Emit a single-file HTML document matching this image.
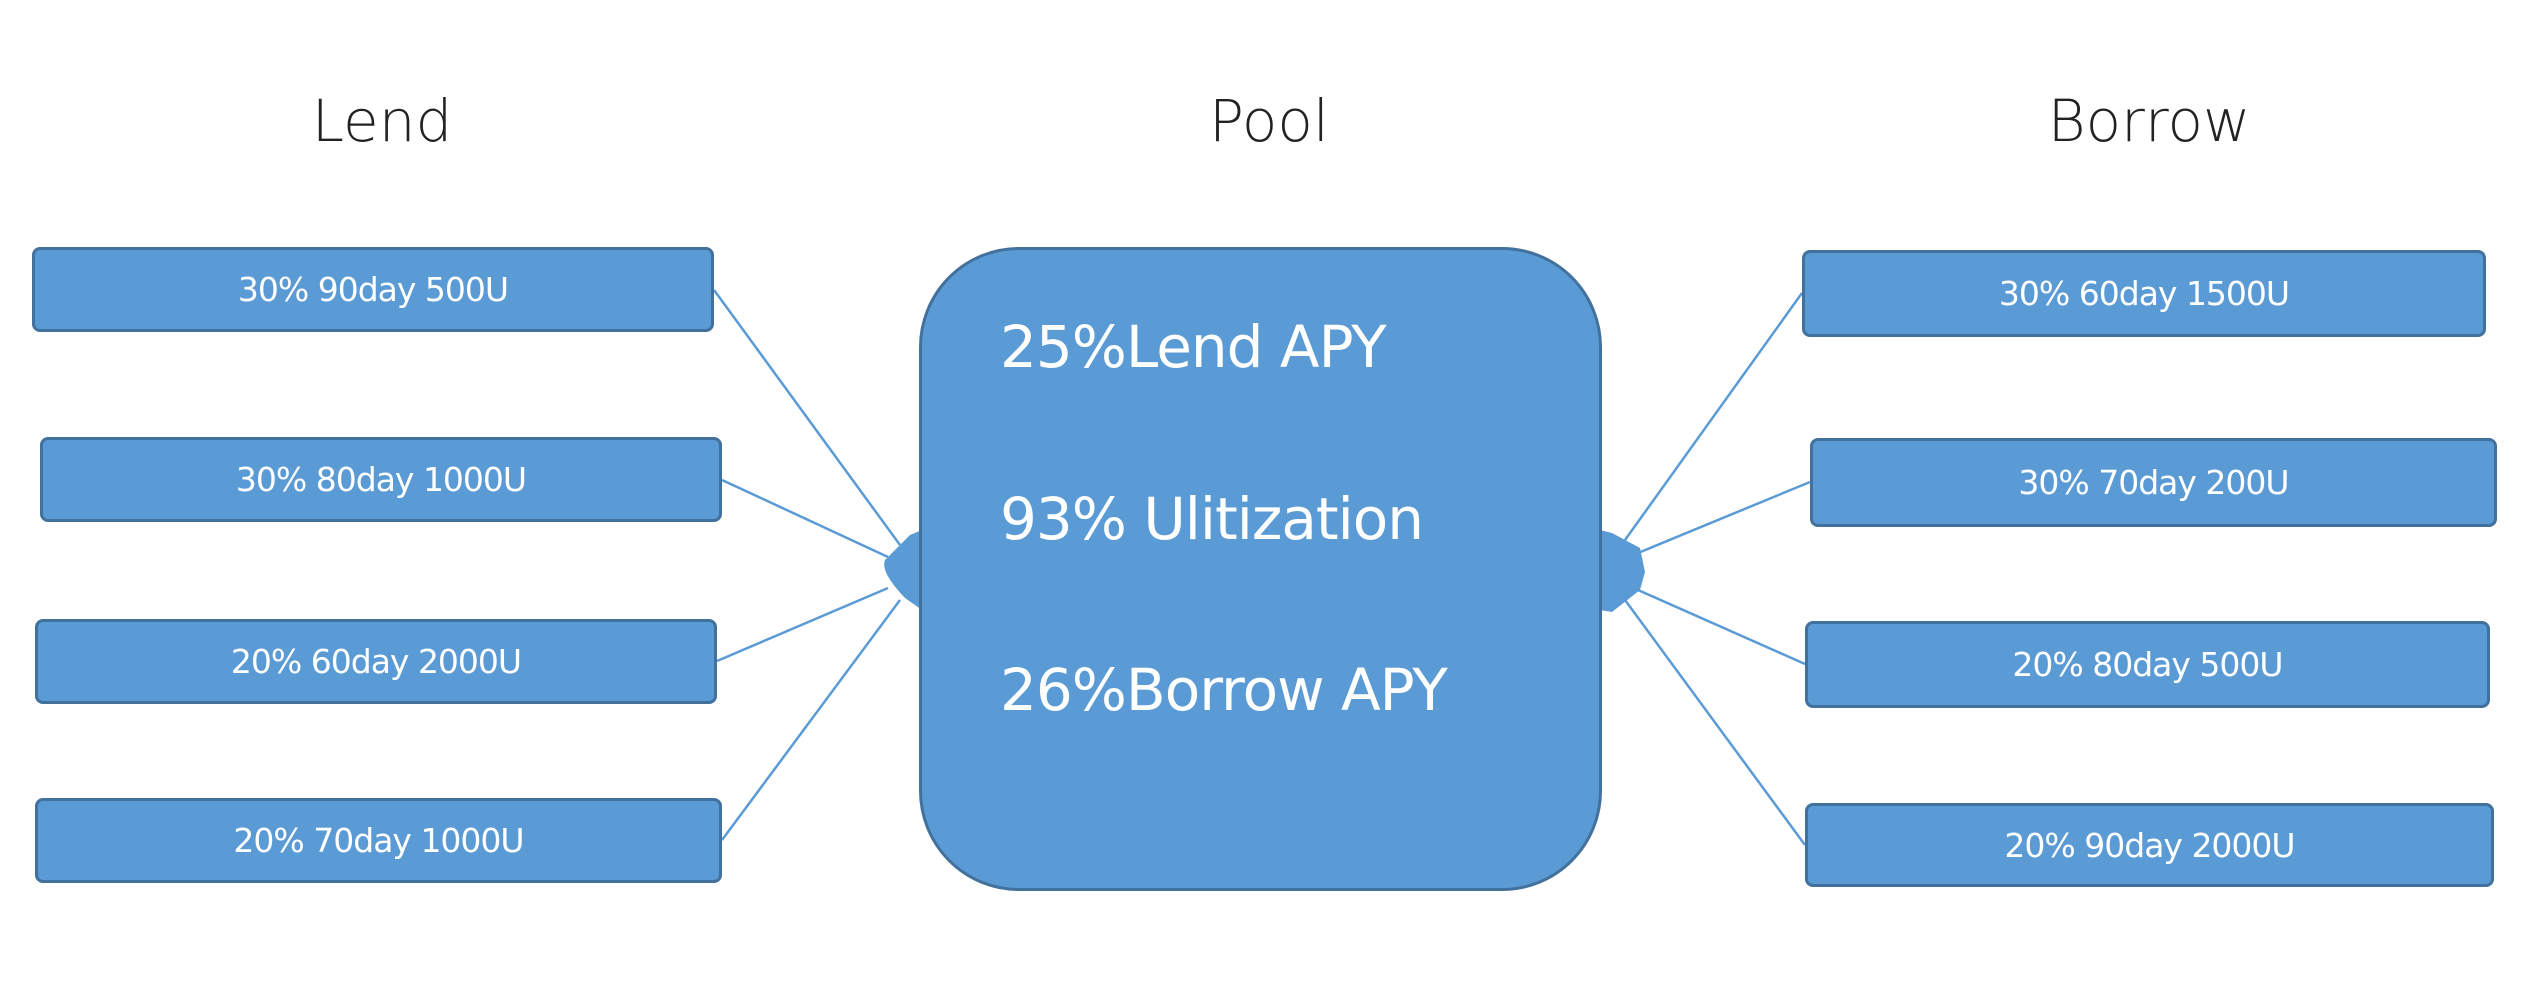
<!DOCTYPE html>
<html><head><style>
body{margin:0;width:2528px;height:995px;background:#fff;position:relative;overflow:hidden;font-family:"Liberation Sans","DejaVu Sans",sans-serif}
.t{position:absolute;font-size:58px;color:#222;transform:translate(-50%,-50%);white-space:nowrap;font-family:"DejaVu Sans","Liberation Sans",sans-serif;font-weight:200}
.b{position:absolute;background:#5b9bd5;border:3px solid #41719c;border-radius:8px;box-sizing:border-box;color:#fff;font-size:33px;display:flex;align-items:center;justify-content:center;font-family:"DejaVu Sans","Liberation Sans",sans-serif;letter-spacing:-1px}
.p{position:absolute;left:919px;top:247px;width:683px;height:644px;background:#5b9bd5;border:3px solid #41719c;border-radius:100px;box-sizing:border-box}
.pt{position:absolute;left:1000px;color:#fff;font-size:58px;transform:translateY(-50%);white-space:nowrap;font-family:"DejaVu Sans","Liberation Sans",sans-serif;letter-spacing:-1px}
svg{position:absolute;left:0;top:0}
</style></head><body>
<div class="t" style="left:382px;top:121px">Lend</div>
<div class="t" style="left:1269px;top:121px">Pool</div>
<div class="t" style="left:2149px;top:121px">Borrow</div>
<svg width="2528" height="995">
<g stroke="#5b9bd5" stroke-width="2.5" fill="none">
<line x1="714" y1="290" x2="900" y2="545"/>
<line x1="722" y1="480" x2="888" y2="557"/>
<line x1="717" y1="661" x2="888" y2="588"/>
<line x1="722" y1="840" x2="900" y2="600"/>
<line x1="1802" y1="293" x2="1625" y2="540"/>
<line x1="1810" y1="482" x2="1638" y2="553"/>
<line x1="1805" y1="664" x2="1638" y2="590"/>
<line x1="1805" y1="845" x2="1625" y2="600"/>
</g>
<path d="M910 535 L922 530 L922 610 L905 598 Q880 572 885 560 Z" fill="#5b9bd5"/>
<path d="M1600 530 L1612 533 L1640 548 L1645 572 L1640 590 L1612 612 L1600 610 Z" fill="#5b9bd5"/>
</svg>
<div class="b" style="left:32px;top:247px;width:682px;height:85px">30% 90day 500U</div>
<div class="b" style="left:40px;top:437px;width:682px;height:85px">30% 80day 1000U</div>
<div class="b" style="left:35px;top:619px;width:682px;height:85px">20% 60day 2000U</div>
<div class="b" style="left:35px;top:798px;width:687px;height:85px">20% 70day 1000U</div>
<div class="p"></div>
<div class="pt" style="top:347px">25%Lend APY</div>
<div class="pt" style="top:519px">93% Ulitization</div>
<div class="pt" style="top:690px">26%Borrow APY</div>
<div class="b" style="left:1802px;top:250px;width:684px;height:87px">30% 60day 1500U</div>
<div class="b" style="left:1810px;top:438px;width:687px;height:89px">30% 70day 200U</div>
<div class="b" style="left:1805px;top:621px;width:685px;height:87px">20% 80day 500U</div>
<div class="b" style="left:1805px;top:803px;width:689px;height:84px">20% 90day 2000U</div>
</body></html>
